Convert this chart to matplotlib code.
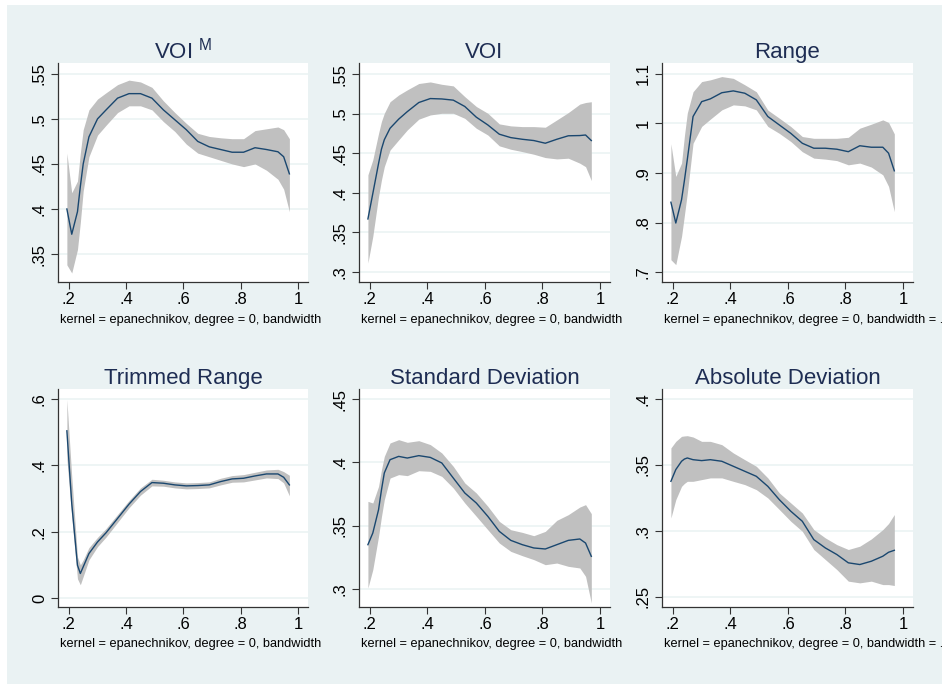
import matplotlib
matplotlib.use("Agg")
import matplotlib.pyplot as plt
from matplotlib.patches import Rectangle
from matplotlib.transforms import Bbox, TransformedBbox

plt.rcParams['font.family'] = ['Liberation Sans', 'DejaVu Sans']
plt.rcParams['mathtext.fontset'] = 'custom'
plt.rcParams['mathtext.rm'] = 'Liberation Sans'

# local polynomial smooth (epanechnikov) with confidence band
x_grid = [0.193, 0.21, 0.23, 0.24, 0.25, 0.27, 0.30, 0.33, 0.37, 0.41, 0.45, 0.49, 0.53,
          0.57, 0.61, 0.65, 0.69, 0.73, 0.77, 0.81, 0.85, 0.89, 0.93, 0.95, 0.97]

voim_fit = [0.400, 0.372, 0.397, 0.425, 0.450, 0.480, 0.500, 0.510, 0.523, 0.528, 0.528, 0.523, 0.510,
            0.499, 0.488, 0.475, 0.469, 0.466, 0.463, 0.463, 0.468, 0.466, 0.4635, 0.458, 0.439]
voim_hi = [0.462, 0.418, 0.431, 0.462, 0.488, 0.510, 0.522, 0.529, 0.538, 0.543, 0.541, 0.535, 0.520,
           0.507, 0.495, 0.484, 0.4805, 0.479, 0.478, 0.478, 0.487, 0.489, 0.491, 0.488, 0.478]
voim_lo = [0.338, 0.329, 0.355, 0.385, 0.420, 0.458, 0.482, 0.493, 0.507, 0.5145, 0.5145, 0.510, 0.497,
           0.486, 0.472, 0.462, 0.458, 0.454, 0.450, 0.447, 0.450, 0.443, 0.433, 0.422, 0.397]

voi_fit = [0.367, 0.399, 0.437, 0.455, 0.467, 0.4815, 0.493, 0.5025, 0.514, 0.519, 0.5185, 0.517, 0.509,
           0.4955, 0.4857, 0.474, 0.4697, 0.4676, 0.466, 0.4626, 0.4676, 0.472, 0.4723, 0.473, 0.466]
voi_hi = [0.4227, 0.4416, 0.475, 0.490, 0.5004, 0.515, 0.5235, 0.530, 0.538, 0.540, 0.537, 0.535, 0.5214,
          0.509, 0.5004, 0.487, 0.4845, 0.4836, 0.4836, 0.4828, 0.492, 0.5013, 0.512, 0.514, 0.515]
voi_lo = [0.3114, 0.345, 0.3954, 0.416, 0.433, 0.454, 0.4668, 0.4794, 0.493, 0.4983, 0.5004, 0.5004, 0.494,
          0.4815, 0.473, 0.4593, 0.455, 0.452, 0.4487, 0.4445, 0.4428, 0.4437, 0.4374, 0.433, 0.4155]

range_fit = [0.841, 0.799, 0.846, 0.885, 0.927, 1.014, 1.044, 1.0496, 1.062, 1.0657, 1.061, 1.0476, 1.014,
             0.997, 0.980, 0.960, 0.950, 0.950, 0.948, 0.943, 0.955, 0.952, 0.952, 0.940, 0.9044]
range_hi = [0.959, 0.893, 0.920, 0.975, 1.021, 1.064, 1.0845, 1.088, 1.0946, 1.091, 1.078, 1.064, 1.027,
            1.0106, 0.9938, 0.9736, 0.970, 0.970, 0.970, 0.972, 0.9904, 0.9985, 1.0072, 1.002, 0.979]
range_lo = [0.725, 0.715, 0.772, 0.815, 0.859, 0.960, 0.994, 1.0086, 1.0274, 1.0375, 1.0355, 1.0274, 0.994,
            0.980, 0.9635, 0.943, 0.930, 0.928, 0.925, 0.9165, 0.920, 0.912, 0.8963, 0.873, 0.822]

trim_fit = [0.504, 0.285, 0.099, 0.074, 0.094, 0.134, 0.169, 0.197, 0.240, 0.283, 0.321, 0.348, 0.346,
            0.341, 0.338, 0.339, 0.341, 0.351, 0.359, 0.361, 0.368, 0.374, 0.374, 0.364, 0.341]
trim_hi = [0.598, 0.366, 0.124, 0.100, 0.115, 0.152, 0.183, 0.210, 0.252, 0.294, 0.332, 0.358, 0.355,
           0.350, 0.347, 0.348, 0.350, 0.361, 0.369, 0.372, 0.379, 0.386, 0.388, 0.381, 0.370]
trim_lo = [0.420, 0.245, 0.058, 0.040, 0.065, 0.115, 0.155, 0.184, 0.228, 0.272, 0.310, 0.338, 0.337,
           0.332, 0.329, 0.330, 0.332, 0.341, 0.349, 0.350, 0.356, 0.362, 0.360, 0.347, 0.308]

sd_fit = [0.335, 0.3442, 0.3626, 0.378, 0.3916, 0.4021, 0.4047, 0.4034, 0.4053, 0.4039, 0.3995, 0.3876, 0.3758,
          0.3679, 0.3574, 0.3455, 0.3384, 0.335, 0.3324, 0.3316, 0.335, 0.3384, 0.3395, 0.3363, 0.3258]
sd_hi = [0.3692, 0.3679, 0.381, 0.394, 0.4047, 0.4153, 0.4179, 0.4158, 0.4171, 0.414, 0.4074, 0.3968, 0.3837,
         0.3758, 0.3653, 0.3534, 0.3468, 0.3447, 0.3421, 0.3455, 0.3542, 0.3587, 0.3647, 0.3666, 0.3595]
sd_lo = [0.3008, 0.3153, 0.3416, 0.357, 0.3705, 0.3876, 0.3903, 0.3895, 0.3934, 0.3929, 0.3889, 0.3797, 0.3679,
         0.3574, 0.3468, 0.3363, 0.3297, 0.3263, 0.3232, 0.3192, 0.3205, 0.3179, 0.3166, 0.31, 0.289]

ad_fit = [0.3376, 0.3465, 0.3528, 0.3545, 0.3553, 0.354, 0.3533, 0.354, 0.3528, 0.349, 0.3452, 0.3414, 0.3338,
          0.3237, 0.3149, 0.3073, 0.2934, 0.2871, 0.2821, 0.2758, 0.2745, 0.277, 0.2808, 0.2838, 0.2853]
ad_hi = [0.3629, 0.3679, 0.3717, 0.372, 0.3722, 0.3712, 0.3679, 0.3679, 0.3654, 0.3591, 0.354, 0.349, 0.3402,
         0.3288, 0.3212, 0.3136, 0.301, 0.2947, 0.2896, 0.2859, 0.2884, 0.2939, 0.301, 0.3056, 0.3124]
ad_lo = [0.3098, 0.3237, 0.3338, 0.336, 0.3376, 0.3376, 0.3389, 0.3402, 0.3402, 0.3376, 0.3351, 0.3313, 0.325,
         0.3162, 0.3073, 0.2997, 0.2859, 0.2783, 0.2707, 0.2619, 0.2606, 0.2619, 0.2593, 0.2593, 0.2586]

titles = ["VOI $^{\\mathrm{M}}$", "VOI", "Range", "Trimmed Range", "Standard Deviation", "Absolute Deviation"]
fits = [voim_fit, voi_fit, range_fit, trim_fit, sd_fit, ad_fit]
his = [voim_hi, voi_hi, range_hi, trim_hi, sd_hi, ad_hi]
los = [voim_lo, voi_lo, range_lo, trim_lo, sd_lo, ad_lo]

x_ticks = [0.2, 0.4, 0.6, 0.8, 1.0]
x_ticklabels = [".2", ".4", ".6", ".8", "1"]
y_ticks = [[0.35, 0.4, 0.45, 0.5, 0.55],
           [0.3, 0.35, 0.4, 0.45, 0.5, 0.55],
           [0.7, 0.8, 0.9, 1.0, 1.1],
           [0.0, 0.2, 0.4, 0.6],
           [0.3, 0.35, 0.4, 0.45],
           [0.25, 0.3, 0.35, 0.4]]
y_ticklabels = [[".35", ".4", ".45", ".5", ".55"],
                [".3", ".35", ".4", ".45", ".5", ".55"],
                [".7", ".8", ".9", "1", "1.1"],
                ["0", ".2", ".4", ".6"],
                [".3", ".35", ".4", ".45"],
                [".25", ".3", ".35", ".4"]]
y_limits = [(0.319, 0.562), (0.2874, 0.5639), (0.680, 1.122),
            (-0.027, 0.630), (0.2858, 0.4579), (0.2423, 0.4076)]
note = "kernel = epanechnikov, degree = 0, bandwidth = .05"

W, H = 942, 684
bg = "#eaf2f3"
navy = "#1a476f"
band = "#c0c0c0"

fig = plt.figure(figsize=(W / 100, H / 100), dpi=100)
fig.patch.set_facecolor("white")
fig.add_artist(Rectangle((7 / W, 0), 1 - 7 / W, 1 - 5 / H, transform=fig.transFigure,
                         facecolor=bg, edgecolor="none", zorder=0))

# pixel boxes of the plot regions
lefts = [58, 359, 662]
rights = [308, 610, 913]
tops = [63, 389]
bottoms = [282, 607]
note_y = [320, 644]
clip_right = [324, 626, 942]

for i in range(6):
    r, c = divmod(i, 3)
    ax = fig.add_axes([lefts[c] / W, 1 - bottoms[r] / H,
                       (rights[c] - lefts[c]) / W, (bottoms[r] - tops[r]) / H])
    ax.set_facecolor("white")
    ax.fill_between(x_grid, los[i], his[i], color=band, lw=0, zorder=2)
    ax.plot(x_grid, fits[i], color=navy, lw=1.0, zorder=3)

    ax.set_xlim(0.162, 1.035)
    ax.set_ylim(*y_limits[i])
    ax.set_xticks(x_ticks)
    ax.set_xticklabels(x_ticklabels)
    ax.set_yticks(y_ticks[i])
    ax.set_yticklabels(y_ticklabels[i], rotation=90, va="center")
    ax.tick_params(axis="both", direction="out", length=5, width=0.8, color="#333333",
                   labelsize=12, labelcolor="black")
    ax.tick_params(axis="x", pad=2)
    ax.tick_params(axis="y", pad=3)
    ax.grid(axis="y", color=bg, lw=1.1, zorder=1)
    ax.set_axisbelow(True)
    for s in ["top", "right"]:
        ax.spines[s].set_visible(False)
    for s in ["left", "bottom"]:
        ax.spines[s].set_color("#333333")
        ax.spines[s].set_linewidth(0.9)

    ax.set_title(titles[i], fontsize=16, color="#1e2d53", pad=3)

    t = fig.text((lefts[c] + 2) / W, 1 - note_y[r] / H, note, fontsize=9.2,
                 color="black", ha="left", va="center")
    box = Bbox.from_extents((lefts[c] - 10) / W, 0, clip_right[c] / W, 1)
    t.set_clip_box(TransformedBbox(box, fig.transFigure))
    t.set_clip_on(True)

fig.savefig("out.png", dpi=100)
